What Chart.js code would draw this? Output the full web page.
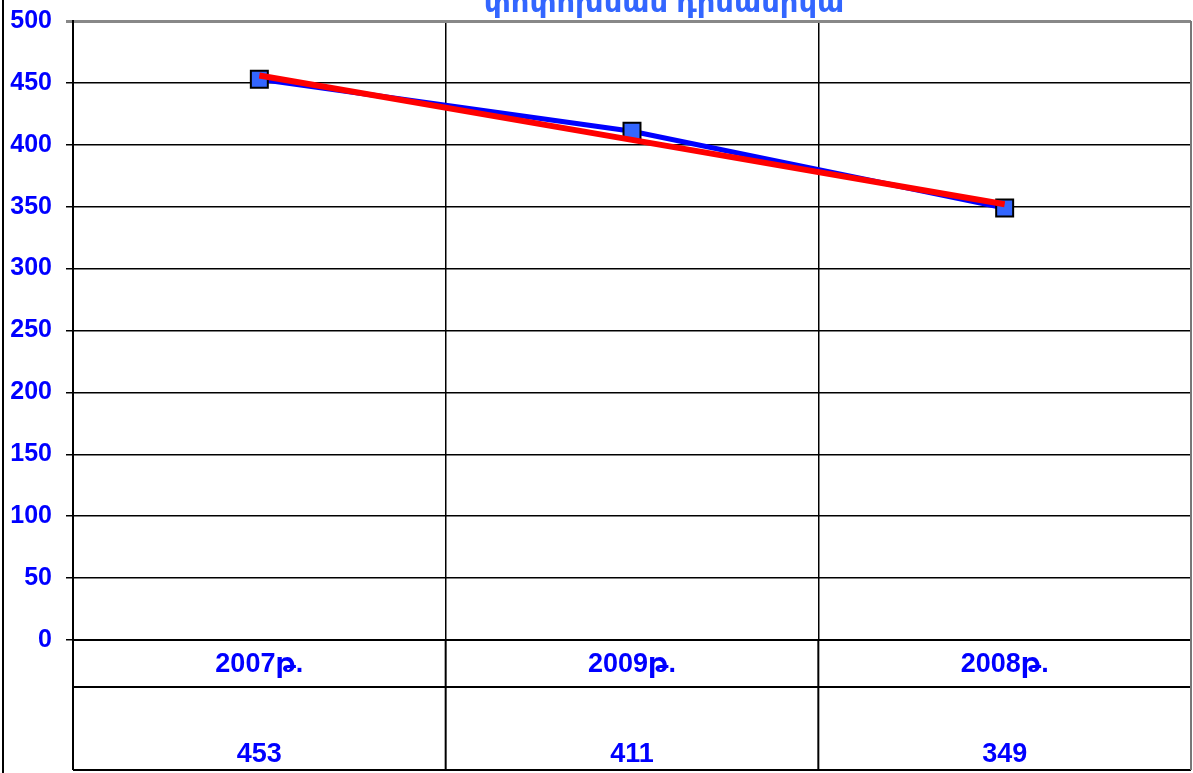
<!DOCTYPE html>
<html>
<head>
<meta charset="utf-8">
<script src="https://cdn.jsdelivr.net/npm/chart.js@4"></script>
<style>
  body { margin: 0; background: #fff; }
  canvas { display: block; }
</style>
</head>
<body>
<canvas id="grafica" width="1193" height="773"></canvas>
<script>
const categories = ['2007թ.', '2009թ.', '2008թ.'];
const values = [453, 411, 349];
const trendValues = [456, 404, 352];
const yTicks = [0, 50, 100, 150, 200, 250, 300, 350, 400, 450, 500];
const titleText = 'փոփոխման դինամիկա';

const FONT = '"Liberation Sans", "DejaVu Sans", Arial, sans-serif';

const tablePlugin = {
    id: 'dataTable',
    afterDraw(chart) {
        const c = chart.ctx;
        const area = chart.chartArea;
        const x = chart.scales.x;
        const rowLine = 687;
        const bottom = 770;

        c.save();
        // outer left line
        c.strokeStyle = '#000';
        c.lineWidth = 2;
        c.beginPath();
        c.moveTo(3, 0);
        c.lineTo(3, 773);
        c.stroke();

        // table lines
        c.lineWidth = 2;
        c.beginPath();
        c.moveTo(area.left, rowLine);
        c.lineTo(area.right, rowLine);
        c.moveTo(area.left, bottom);
        c.lineTo(area.right, bottom);
        c.moveTo(area.left, area.bottom);
        c.lineTo(area.left, bottom);
        for (let i = 1; i < categories.length; i++) {
            const bx = (x.getPixelForValue(i - 1) + x.getPixelForValue(i)) / 2;
            c.moveTo(bx, area.bottom);
            c.lineTo(bx, bottom);
        }
        c.stroke();
        c.strokeStyle = '#777';
        c.beginPath();
        c.moveTo(area.right, area.top);
        c.lineTo(area.right, bottom);
        c.stroke();

        // table text
        c.fillStyle = '#0000ff';
        c.font = 'bold 27px ' + FONT;
        c.textAlign = 'center';
        c.textBaseline = 'middle';
        categories.forEach((lab, i) => {
            const px = x.getPixelForValue(i);
            c.fillText(lab, px, 665);
            c.fillText(String(values[i]), px, 755);
        });

        // title (cut at top)
        c.fillStyle = '#3366ff';
        c.font = 'bold 29px ' + FONT;
        c.textBaseline = 'alphabetic';
        c.fillText(titleText, 664, 12);
        c.restore();
    }
};

new Chart(document.getElementById('grafica'), {
    type: 'line',
    data: {
        labels: categories,
        datasets: [
            {
                label: 'Trend',
                data: trendValues,
                borderColor: '#ff0000',
                borderWidth: 6,
                pointRadius: 0,
                fill: false,
                order: 0
            },
            {
                label: 'Values',
                data: values,
                borderColor: '#0000ff',
                borderWidth: 5,
                pointStyle: 'rect',
                pointRadius: 12,
                pointBackgroundColor: '#3366ff',
                pointBorderColor: '#000',
                pointBorderWidth: 2,
                fill: false,
                order: 1
            }
        ]
    },
    options: {
        responsive: false,
        animation: false,
        layout: { autoPadding: false, padding: { top: 21, right: 2, left: 0, bottom: 0 } },
        plugins: {
            legend: { display: false },
            title: { display: false },
            tooltip: { enabled: false }
        },
        scales: {
            x: {
                offset: true,
                grid: { offset: true, color: '#000', lineWidth: 1.5, drawTicks: false },
                border: { color: '#000', width: 2 },
                ticks: { display: false },
                afterFit(scale) { scale.height = 133; }
            },
            y: {
                min: 0,
                max: 500,
                afterBuildTicks(scale) { scale.ticks = yTicks.map(v => ({ value: v })); },
                grid: {
                    color: ctx => ctx.tick && ctx.tick.value === 500 ? '#888' : '#000',
                    lineWidth: ctx => ctx.tick && ctx.tick.value === 500 ? 3 : 1.5,
                    tickLength: 7
                },
                border: { color: '#000', width: 2 },
                ticks: {
                    color: '#0000ff',
                    font: { family: FONT, size: 25, weight: 'bold' },
                    padding: 14
                },
                afterFit(scale) {
                    scale.width = 73;
                    scale.paddingTop = 0;
                    scale.paddingBottom = 0;
                }
            }
        }
    },
    plugins: [tablePlugin]
});
</script>
</body>
</html>
